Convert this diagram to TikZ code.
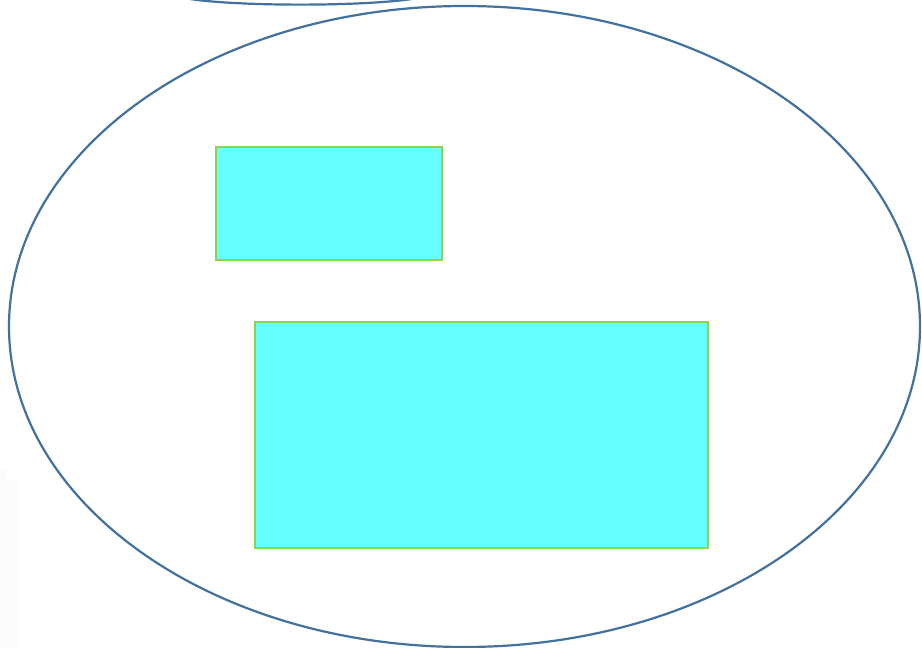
\documentclass[tikz,border=0pt]{standalone}
\usetikzlibrary{shapes.geometric}
\begin{document}
\begin{tikzpicture}[x=1pt,y=-1pt,
  outline/.style={draw={rgb,255:red,65;green,113;blue,156},line width=2.2pt},
  cyanbox/.style={draw={rgb,255:red,146;green,208;blue,80},line width=2.2pt,fill={rgb,255:red,102;green,255;blue,255},inner sep=0pt,anchor=north west}]
\useasboundingbox (0,0) rectangle (922,648);
\fill[black!1.5] (0,470) rectangle (6,648);
\fill[black!1] (6,480) rectangle (20,648);
\begin{scope}
\clip (0,0) rectangle (922,648);
\draw[outline] (190,-1) .. controls (240,6.5) and (360,6.5) .. (412,-1);
\end{scope}
\node[outline,ellipse,minimum width=911pt,minimum height=641pt,inner sep=0pt] (oval) at (464.5,326.5) {};
\node[cyanbox,minimum width=226pt,minimum height=113pt] (small) at (214.5,145.5) {};
\node[cyanbox,minimum width=453pt,minimum height=226pt] (big) at (253.5,320.5) {};
\end{tikzpicture}
\end{document}
